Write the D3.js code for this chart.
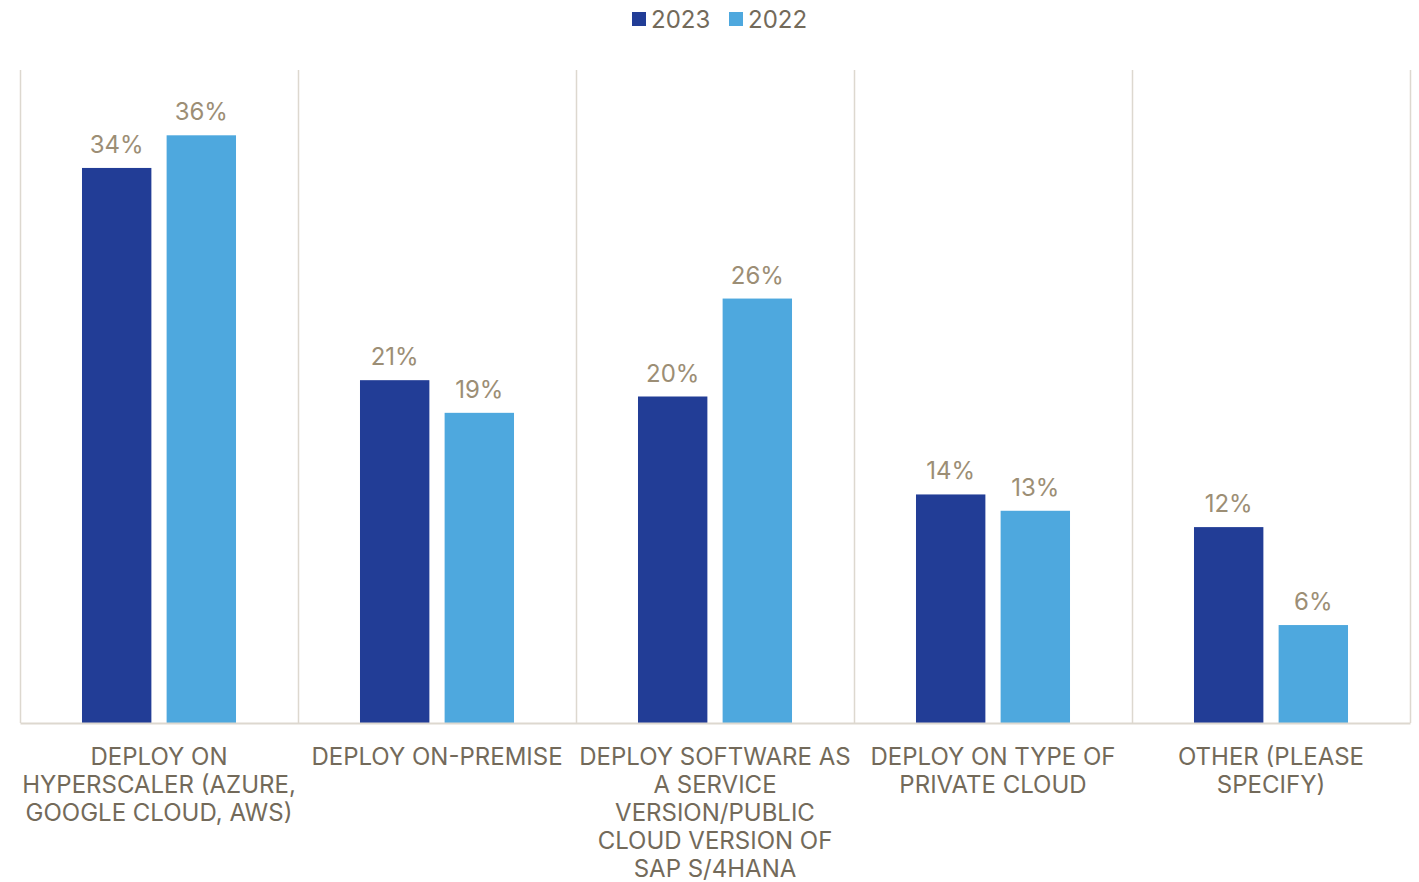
<!DOCTYPE html>
<html>
<head>
<meta charset="utf-8">
<script src="https://cdn.jsdelivr.net/npm/d3@7"></script>
<style>
  html, body { margin: 0; padding: 0; background: #ffffff; }
  svg { display: block; font-family: Inter, "Noto Sans", sans-serif; }
</style>
</head>
<body>
<svg id="chart" width="1419" height="882"></svg>
<script>
// Deployment preference by year
const categories = ["hyperscaler", "onprem", "saas", "private", "other"];
const tickLabels = [
  ["DEPLOY ON", "HYPERSCALER (AZURE,", "GOOGLE CLOUD, AWS)"],
  ["DEPLOY ON-PREMISE"],
  ["DEPLOY SOFTWARE AS", "A SERVICE", "VERSION/PUBLIC", "CLOUD VERSION OF", "SAP S/4HANA"],
  ["DEPLOY ON TYPE OF", "PRIVATE CLOUD"],
  ["OTHER (PLEASE", "SPECIFY)"]
];
const seriesNames = ["2023", "2022"];
const values2023 = [34, 21, 20, 14, 12];
const values2022 = [36, 19, 26, 13, 6];
const colors = ["#223D96", "#4EA8DE"];

const svg = d3.select("#chart");
const margin = { left: 20, right: 9, top: 70, bottom: 159 };
const W = 1419, H = 882;
const plotLeft = margin.left, plotRight = W - margin.right;
const plotTop = margin.top, plotBottom = H - margin.bottom;

const x = d3.scaleBand().domain(categories).range([plotLeft, plotRight]).paddingInner(0).paddingOuter(0);
const bw = x.bandwidth();
const xInner = d3.scaleBand().domain(seriesNames).range([bw * 0.223, bw * 0.777]).paddingInner(0.18).paddingOuter(0);
const y = d3.scaleLinear().domain([0, 40]).range([plotBottom, plotTop]);

// vertical separators between categories
const seps = categories.map(c => x(c)).concat([plotRight]);
svg.append("g").selectAll("line").data(seps).join("line")
  .attr("x1", d => d + 0.5).attr("x2", d => d + 0.5)
  .attr("y1", plotTop).attr("y2", plotBottom)
  .attr("stroke", "#DDD8CF").attr("stroke-width", 1.5);

const rows = categories.map((c, i) => ({ c, vals: [values2023[i], values2022[i]] }));

const groups = svg.append("g").selectAll("g").data(rows).join("g")
  .attr("transform", d => `translate(${x(d.c)},0)`);

groups.selectAll("rect").data(d => d.vals.map((v, j) => ({ v, s: seriesNames[j], j }))).join("rect")
  .attr("x", d => xInner(d.s))
  .attr("width", xInner.bandwidth())
  .attr("y", d => y(d.v))
  .attr("height", d => plotBottom - y(d.v))
  .attr("fill", d => colors[d.j]);

groups.selectAll("text.val").data(d => d.vals.map((v, j) => ({ v, s: seriesNames[j] }))).join("text")
  .attr("class", "val")
  .attr("x", d => xInner(d.s) + xInner.bandwidth() / 2)
  .attr("y", d => y(d.v) - 15)
  .attr("text-anchor", "middle")
  .attr("font-size", 24)
  .attr("fill", "#9C8E75")
  .text(d => d.v + "%");

// baseline axis
const xAxis = d3.axisBottom(x).tickSize(0).tickFormat("");
const axisG = svg.append("g").attr("transform", `translate(0,${plotBottom})`).call(xAxis);
axisG.select(".domain").attr("stroke", "#DDD8CF").attr("stroke-width", 2);

// category labels
categories.forEach((c, i) => {
  const t = svg.append("text")
    .attr("x", x(c) + bw / 2)
    .attr("y", plotBottom + 42)
    .attr("text-anchor", "middle")
    .attr("font-size", 24)
    .attr("fill", "#736A5A");
  tickLabels[i].forEach((line, k) => {
    t.append("tspan").attr("x", x(c) + bw / 2).attr("dy", k === 0 ? 0 : 28).text(line);
  });
});

// legend
const legend = svg.append("g").attr("transform", "translate(632,0)");
const legendItems = [{ name: seriesNames[0], color: colors[0], dx: 0 }, { name: seriesNames[1], color: colors[1], dx: 97 }];
legendItems.forEach(it => {
  legend.append("rect").attr("x", it.dx).attr("y", 12).attr("width", 14).attr("height", 14).attr("fill", it.color);
  legend.append("text").attr("x", it.dx + 19).attr("y", 28).attr("font-size", 24).attr("fill", "#736A5A").text(it.name);
});
</script>
</body>
</html>
